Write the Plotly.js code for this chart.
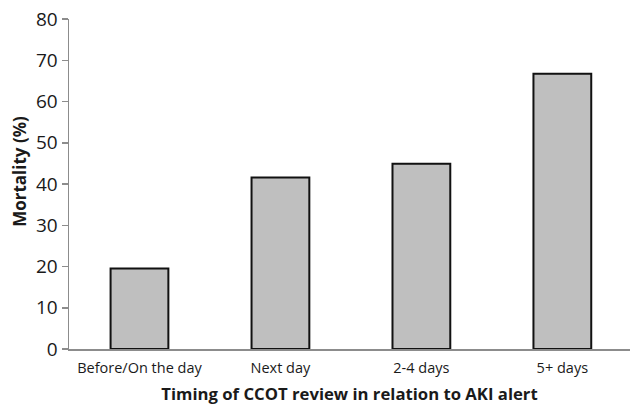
<!DOCTYPE html>
<html>
<head>
<meta charset="utf-8">
<script src="https://cdn.plot.ly/plotly-3.0.1.min.js"></script>
<style>html,body{margin:0;padding:0;background:#fff;}#chart{width:630px;height:405px;}</style>
</head>
<body>
<div id="chart"></div>
<script>
const categories = ["Before/On the day", "Next day", "2-4 days", "5+ days"];
const mortality = [19.5, 41.6, 44.9, 66.7];
const yTicks = [0, 10, 20, 30, 40, 50, 60, 70, 80];
const xTitle = "Timing of CCOT review in relation to AKI alert";
const yTitle = "Mortality (%)";

const trace = {
  type: "bar",
  x: categories,
  y: mortality,
  width: 0.41,
  marker: { color: "#bfbfbf", line: { color: "#111111", width: 2 } },
  hoverinfo: "skip"
};

const layout = {
  width: 630, height: 405,
  margin: { l: 69, r: 0, t: 19, b: 56 },
  paper_bgcolor: "#ffffff", plot_bgcolor: "#ffffff",
  showlegend: false,
  font: { family: "Open Sans, sans-serif", color: "#1a1a1a" },
  xaxis: {
    type: "category",
    range: [-0.5, 3.48],
    showgrid: false, zeroline: false,
    showline: true, linecolor: "#8c8c8c", linewidth: 1.5,
    ticks: "", ticklabelstandoff: 5, tickfont: { size: 14.5, color: "#1a1a1a" },
    title: { text: "<b>" + xTitle + "</b>", font: { size: 16.7, color: "#1a1a1a" }, standoff: 14 }
  },
  yaxis: {
    range: [0, 80],
    tickvals: yTicks,
    showgrid: false, zeroline: false,
    showline: true, linecolor: "#8c8c8c", linewidth: 1.5,
    ticks: "outside", ticklen: 6, tickcolor: "#8c8c8c", tickwidth: 1.5,
    tickfont: { size: 19, color: "#1a1a1a" }
  },
  annotations: [{
    text: "<b>" + yTitle + "</b>",
    xref: "paper", yref: "paper",
    x: -0.0873, y: 0.537,
    xanchor: "center", yanchor: "middle",
    textangle: -90, showarrow: false,
    font: { size: 17, color: "#1a1a1a" }
  }]
};

Plotly.newPlot("chart", [trace], layout, { staticPlot: true, displayModeBar: false });
</script>
</body>
</html>
